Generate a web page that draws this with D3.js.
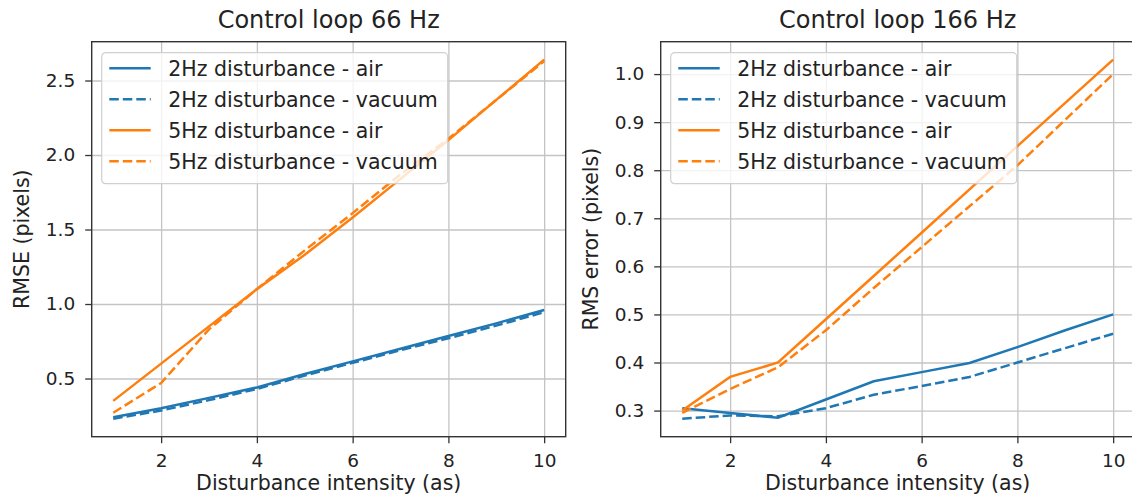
<!DOCTYPE html>
<html>
<head>
<meta charset="utf-8">
<script src="https://cdn.jsdelivr.net/npm/d3@7"></script>
<style>
body { margin: 0; background: #fff; }
svg text { font-family: "DejaVu Sans", sans-serif; fill: #222; }
</style>
</head>
<body>
<svg id="chart" width="1132" height="501"></svg>
<script>

// x values (disturbance intensity, as)
const intensity = [1, 2, 3, 4, 5, 6, 7, 8, 9, 10]
const xTicks = [2, 4, 6, 8, 10]

// control loop 66 Hz (RMSE, pixels)
const loop66_2hz_air    = [0.24, 0.30, 0.37, 0.44, 0.53, 0.615, 0.70, 0.785, 0.87, 0.96]
const loop66_2hz_vacuum = [0.23, 0.285, 0.355, 0.43, 0.52, 0.605, 0.69, 0.77, 0.855, 0.945]
const loop66_5hz_air    = [0.35, 0.60, 0.85, 1.10, 1.33, 1.58, 1.84, 2.10, 2.37, 2.64]
const loop66_5hz_vacuum = [0.27, 0.47, 0.83, 1.10, 1.36, 1.61, 1.87, 2.11, 2.37, 2.63]

// control loop 166 Hz (RMS error, pixels)
const loop166_2hz_air    = [0.305, 0.295, 0.285, 0.323, 0.361, 0.38, 0.399, 0.432, 0.467, 0.50]
const loop166_2hz_vacuum = [0.283, 0.29, 0.288, 0.305, 0.333, 0.351, 0.37, 0.40, 0.43, 0.46]
const loop166_5hz_air    = [0.30, 0.37, 0.40, 0.49, 0.58, 0.67, 0.76, 0.85, 0.94, 1.03]
const loop166_5hz_vacuum = [0.295, 0.345, 0.39, 0.467, 0.555, 0.64, 0.725, 0.81, 0.905, 1.0]

const legendLabels = ["2Hz disturbance - air", "2Hz disturbance - vacuum",
                      "5Hz disturbance - air", "5Hz disturbance - vacuum"]
const yTicks66  = [0.5, 1.0, 1.5, 2.0, 2.5]
const yTicks166 = [0.3, 0.4, 0.5, 0.6, 0.7, 0.8, 0.9, 1.0]

const blue = "#1f77b4", orange = "#ff7f0e"
const dash = "9.5,4"

const svg = d3.select("#chart")
const plotW = 474, plotH = 395, plotTop = 41.7

// matplotlib style 5% margins
function padded( ext ) {
  let m = ( ext[1] - ext[0] ) * 0.05
  return [ ext[0] - m, ext[1] + m ]
}

function drawPanel( left, title, yLabel, seriesValues, yTicks )
{
  let series = seriesValues.map( (v, i) => ({
    values: v,
    label: legendLabels[i],
    color: i < 2 ? blue : orange,
    dashed: i % 2 == 1
  }))

  let g = svg.append("g").attr("transform", "translate(" + left + "," + plotTop + ")")

  let x = d3.scaleLinear().domain( padded( d3.extent( intensity ) ) ).range([0, plotW])
  let y = d3.scaleLinear().domain( padded( d3.extent( seriesValues.flat() ) ) ).range([plotH, 0])

  // grid
  g.append("g")
   .attr("transform", "translate(0," + plotH + ")")
   .call( d3.axisBottom(x).tickValues(xTicks).tickSize(-plotH).tickFormat("") )
   .call( a => a.select(".domain").remove() )
   .selectAll("line").attr("stroke", "#c4c4c4").attr("stroke-width", 1.3)

  g.append("g")
   .call( d3.axisLeft(y).tickValues(yTicks).tickSize(-plotW).tickFormat("") )
   .call( a => a.select(".domain").remove() )
   .selectAll("line").attr("stroke", "#c4c4c4").attr("stroke-width", 1.3)

  // lines
  let line = d3.line()
               .x( (d, i) => x( intensity[i] ) )
               .y( d => y(d) )

  g.selectAll(".series")
   .data( series )
   .enter()
   .append("path")
   .attr("d", d => line( d.values ))
   .attr("fill", "none")
   .attr("stroke", d => d.color)
   .attr("stroke-width", 2.5)
   .attr("stroke-dasharray", d => d.dashed ? dash : null)

  // axes
  let xAxis = g.append("g")
               .attr("transform", "translate(0," + plotH + ")")
               .call( d3.axisBottom(x).tickValues(xTicks).tickSize(6.5).tickSizeOuter(0).tickPadding(11) )
  let yAxis = g.append("g")
               .call( d3.axisLeft(y).tickValues(yTicks).tickFormat(d3.format(".1f")).tickSize(6.5).tickSizeOuter(0).tickPadding(10) )

  for ( let a of [xAxis, yAxis] ) {
    a.select(".domain").remove()
    a.selectAll("line").attr("stroke", "#333").attr("stroke-width", 1.3)
    a.selectAll("text").attr("font-size", 18.5).attr("fill", "#222")
  }

  // frame
  g.append("rect")
   .attr("width", plotW).attr("height", plotH)
   .attr("fill", "none").attr("stroke", "#333").attr("stroke-width", 1.4)

  // title and labels
  g.append("text")
   .attr("x", plotW / 2).attr("y", -13.5)
   .attr("text-anchor", "middle").attr("font-size", 24)
   .text( title )

  g.append("text")
   .attr("x", plotW / 2).attr("y", plotH + 53)
   .attr("text-anchor", "middle").attr("font-size", 20.5)
   .text("Disturbance intensity (as)")

  g.append("text")
   .attr("transform", "translate(-62.7," + plotH / 2 + ") rotate(-90)")
   .attr("text-anchor", "middle").attr("font-size", 20.5)
   .text( yLabel )

  // legend
  let lg = g.append("g").attr("transform", "translate(10,11)")
  lg.append("rect")
    .attr("width", 346).attr("height", 131).attr("rx", 4)
    .attr("fill", "#fff").attr("fill-opacity", 0.8)
    .attr("stroke", "#d0d0d0").attr("stroke-width", 1.2)

  let items = lg.selectAll(".item")
                .data( series )
                .enter()
                .append("g")
                .attr("transform", (d, i) => "translate(0," + (15.6 + i * 31) + ")")

  items.append("line")
       .attr("x1", 7.6).attr("x2", 49)
       .attr("stroke", d => d.color).attr("stroke-width", 2.5)
       .attr("stroke-dasharray", d => d.dashed ? dash : null)

  items.append("text")
       .attr("x", 66.6).attr("dy", "0.36em")
       .attr("font-size", 20.5)
       .text( d => d.label )
}

drawPanel( 91.7, "Control loop 66 Hz", "RMSE (pixels)",
           [loop66_2hz_air, loop66_2hz_vacuum, loop66_5hz_air, loop66_5hz_vacuum], yTicks66 )
drawPanel( 660.7, "Control loop 166 Hz", "RMS error (pixels)",
           [loop166_2hz_air, loop166_2hz_vacuum, loop166_5hz_air, loop166_5hz_vacuum], yTicks166 )

</script>
</body>
</html>
